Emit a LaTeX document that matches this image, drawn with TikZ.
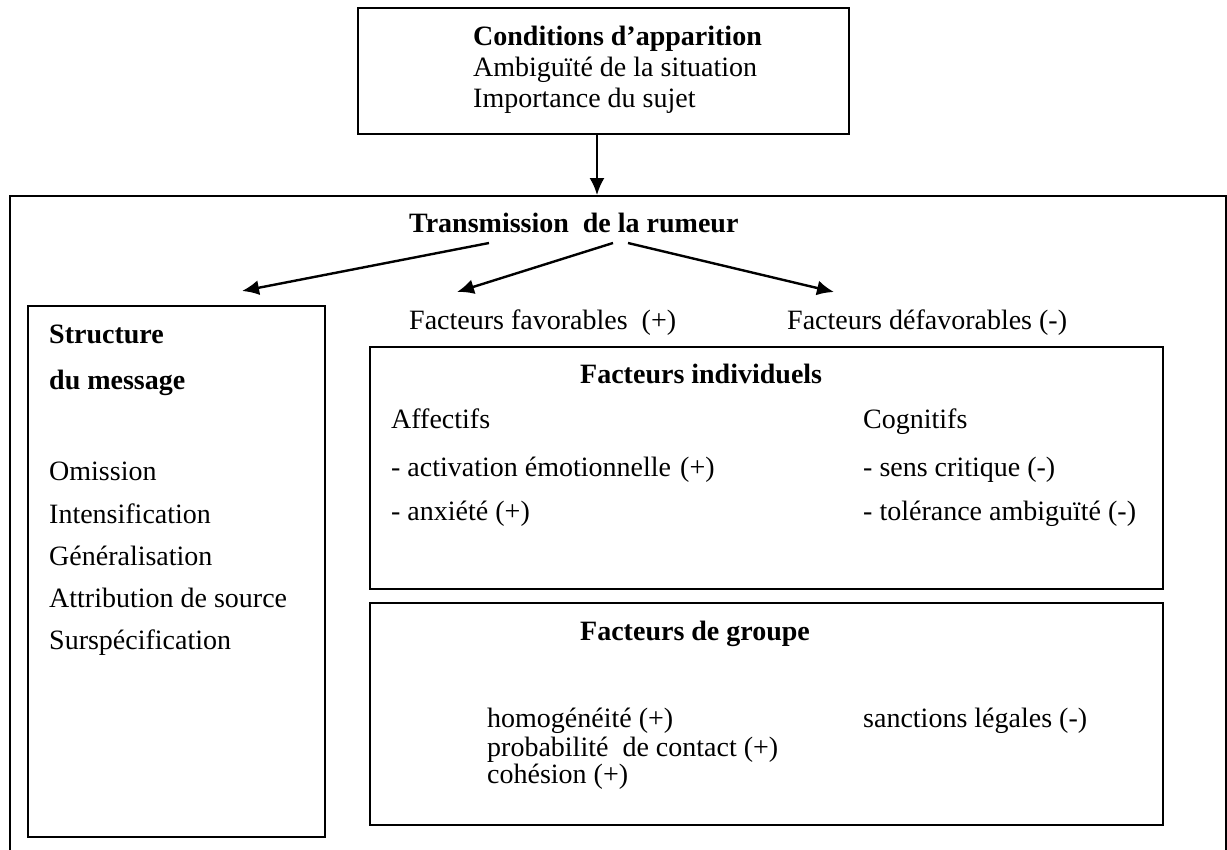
\documentclass[tikz,border=0pt]{standalone}
\usepackage{fontspec}
\setmainfont{Liberation Serif}
\usetikzlibrary{arrows.meta}

\tikzset{
  box/.style={draw, line width=1.9bp, inner sep=0pt},
  txt/.style={anchor=base west, inner sep=0pt, font=\fontsize{28bp}{32bp}\selectfont},
  hd/.style={txt, font=\fontsize{28bp}{32bp}\selectfont\bfseries},
  arr/.style={line width=2.4bp, -{Latex[length=17bp,width=15bp]}}
}

\begin{document}
\begin{tikzpicture}[x=1bp,y=1bp,yscale=-1,xscale=1]
    \useasboundingbox (0,0) rectangle (1227,850);

    %Shape: Rectangle [conditions]
    \node (condbox) [box, minimum width=491bp, minimum height=126bp] at (603.5,71) {};
    %Shape: Rectangle [transmission]
    \node (outerbox) [box, minimum width=1216bp, minimum height=694bp] at (618,543) {};
    %Shape: Rectangle [structure]
    \node (structbox) [box, minimum width=297bp, minimum height=531bp] at (176.5,571.5) {};
    %Shape: Rectangle [individuels]
    \node (indivbox) [box, minimum width=793bp, minimum height=242bp] at (766.5,468) {};
    %Shape: Rectangle [groupe]
    \node (groupbox) [box, minimum width=793bp, minimum height=222bp] at (766.5,714) {};

    % Text Node
    \draw (473,45) node (condt) [hd] {Conditions d’apparition};
    % Text Node
    \draw (473,76) node (ambig) [txt] {Ambiguïté de la situation};
    % Text Node
    \draw (473,107) node (impt) [txt] {Importance du sujet};
    % Text Node
    \draw (409,232) node (trans) [hd] {Transmission\ \ de la rumeur};

    % Text Node
    \draw (49,343) node (structt) [hd] {Structure};
    % Text Node
    \draw (49,389) node (messt) [hd] {du message};
    % Text Node
    \draw (49,480) node (omis) [txt] {Omission};
    % Text Node
    \draw (49,523) node (intens) [txt] {Intensification};
    % Text Node
    \draw (49,565) node (gener) [txt] {Généralisation};
    % Text Node
    \draw (49,607) node (attrib) [txt] {Attribution de source};
    % Text Node
    \draw (49,649) node (sursp) [txt] {Surspécification};

    % Text Node
    \draw (409,329) node (favt) [txt] {Facteurs favorables\ \ (+)};
    % Text Node
    \draw (787,329) node (defavt) [txt] {Facteurs défavorables (-)};

    % Text Node
    \draw (580,383) node (indivt) [hd] {Facteurs individuels};
    % Text Node
    \draw (391,428) node (affect) [txt] {Affectifs};
    % Text Node
    \draw (391,476) node (activ) [txt] {- activation émotionnelle};
    % Text Node
    \draw (680,476) node (activp) [txt] {(+)};
    % Text Node
    \draw (391,520) node (anx) [txt] {- anxiété (+)};
    % Text Node
    \draw (863,428) node (cognit) [txt] {Cognitifs};
    % Text Node
    \draw (863,476) node (sens) [txt] {- sens critique (-)};
    % Text Node
    \draw (863,520) node (toler) [txt] {- tolérance ambiguïté (-)};

    % Text Node
    \draw (580,640) node (groupt) [hd] {Facteurs de groupe};
    % Text Node
    \draw (487,727) node (homog) [txt] {homogénéité (+)};
    % Text Node
    \draw (487,756) node (proba) [txt] {probabilité\ \ de contact (+)};
    % Text Node
    \draw (487,783) node (cohes) [txt] {cohésion (+)};
    % Text Node
    \draw (863,727) node (sanct) [txt] {sanctions légales (-)};

    %Arrows
    \coordinate (s1) at (489,243);
    \coordinate (e1) at (242,291);
    \coordinate (s2) at (613,243);
    \coordinate (e2) at (457,292);
    \coordinate (s3) at (628,243);
    \coordinate (e3) at (834,292);
    \draw [arr] ([xshift=-6.5bp]condbox.south) -- ([xshift=-6.5bp]condbox.south |- outerbox.north);
    \draw [arr] (s1) -- (e1);
    \draw [arr] (s2) -- (e2);
    \draw [arr] (s3) -- (e3);

\end{tikzpicture}
\end{document}
